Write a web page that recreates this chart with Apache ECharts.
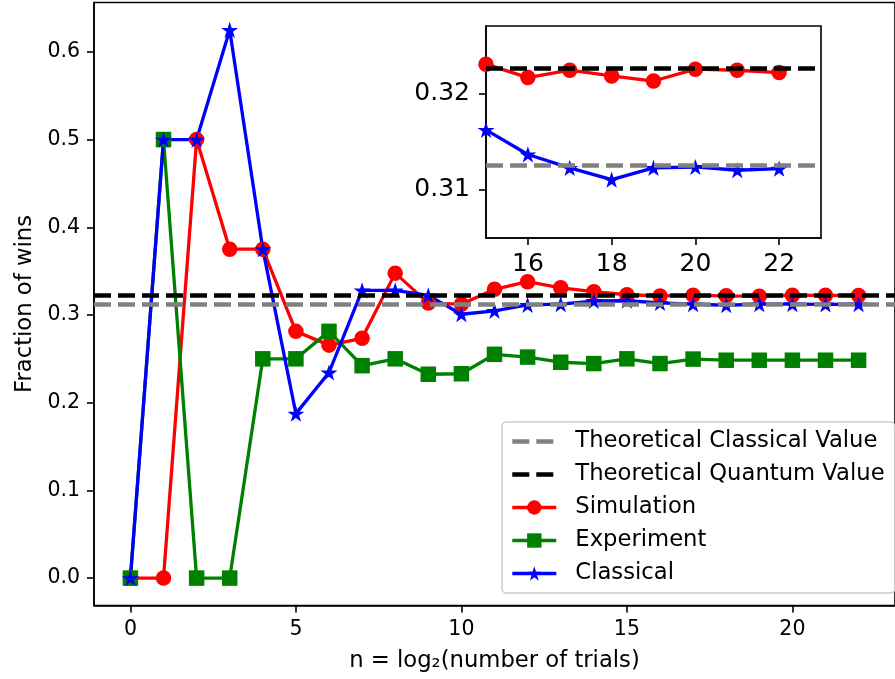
<!DOCTYPE html>
<html><head><meta charset="utf-8">
<script src="https://cdn.jsdelivr.net/npm/echarts@6/dist/echarts.min.js"></script>
<style>html,body{margin:0;padding:0;background:#fff}#c{width:895px;height:679px}</style>
</head><body><div id="c"></div>
<script>
// ---- data ----
const nValues = [0,1,2,3,4,5,6,7,8,9,10,11,12,13,14,15,16,17,18,19,20,21,22];
const simulation = [0, 0, 0.5, 0.375, 0.375, 0.2813, 0.2656, 0.2734, 0.3477, 0.3135, 0.3123, 0.3292, 0.3379, 0.3310, 0.3265, 0.32304, 0.32165, 0.32241, 0.32182, 0.32129, 0.32252, 0.32241, 0.32217];
const experiment = [0, 0.5, 0, 0, 0.25, 0.25, 0.2813, 0.2422, 0.25, 0.2324, 0.2330, 0.2551, 0.2520, 0.2461, 0.2446, 0.2500, 0.2446, 0.2497, 0.2484, 0.2484, 0.2484, 0.2484, 0.2484];
const classical = [0, 0.5, 0.5, 0.625, 0.375, 0.1875, 0.2344, 0.3281, 0.3281, 0.3223, 0.3008, 0.3047, 0.3115, 0.3123, 0.3159, 0.31622, 0.31367, 0.31227, 0.31105, 0.31227, 0.31237, 0.31203, 0.31220];
const theoreticalClassical = 0.3125;
const theoreticalQuantum = 0.3226;
const mainXTicks = [0,5,10,15,20];
const mainYTicks = [0,0.1,0.2,0.3,0.4,0.5,0.6];
const insetXTicks = [16,18,20,22];
const insetYTicks = [0.31,0.32];
const seriesNames = ['Theoretical Classical Value','Theoretical Quantum Value','Simulation','Experiment','Classical'];

// ---- styling ----
const FONT = 'DejaVu Sans';
const FS = 20.5, FS_LABEL = 22.7, FS_INSET = 25;
const RED = '#ff0000', GREEN = '#008000', BLUE = '#0000ff', GRAY = '#808080', BLACK = '#000000';
const STAR = 'path://M100,0L122.45,69.1L195.11,69.1L136.33,111.8L158.78,180.9L100,138.2L41.22,180.9L63.67,111.8L4.89,69.1L77.55,69.1Z';
const LW = 3.3, MS = 15.5, STAR_MS = 17, DLW = 4.6, DASH = [17,7];

const pairs = arr => nValues.map((x,i) => [x, arr[i]]);

function axisCommon(ticks, fmt, fs, margin) {
  return {
    type: 'value',
    splitLine: {show: false},
    axisLine: {show: true, onZero: false, lineStyle: {color: BLACK, width: 1.6}},
    axisTick: {show: true, length: 7, inside: false, lineStyle: {color: BLACK, width: 1.6}, customValues: ticks},
    axisLabel: {customValues: ticks, color: BLACK, fontSize: fs, fontFamily: FONT, margin: margin, formatter: fmt}
  };
}
function mLine(value, color) {
  return {yAxis: value, lineStyle: {color: color, width: DLW, type: DASH}};
}

const chart = echarts.init(document.getElementById('c'), null, {renderer: 'canvas'});
const option = {
  animation: false,
  backgroundColor: '#fff',
  grid: [
    {left: 94, top: 2.5, width: 807, height: 603, show: true, borderColor: BLACK, borderWidth: 1.6, backgroundColor: 'transparent'},
    {left: 486, top: 26, width: 335, height: 212, show: true, borderColor: BLACK, borderWidth: 1.6, backgroundColor: '#fff'}
  ],
  xAxis: [
    Object.assign(axisCommon(mainXTicks, v => String(v), FS, 14), {gridIndex: 0, min: -1.1, max: 23.1,
      name: 'n = log\u2082(number of trials)', nameLocation: 'middle', nameGap: 44,
      nameTextStyle: {color: BLACK, fontSize: FS_LABEL, fontFamily: FONT}}),
    Object.assign(axisCommon(insetXTicks, v => String(v), FS_INSET, 14), {gridIndex: 1, min: 15, max: 23})
  ],
  yAxis: [
    Object.assign(axisCommon(mainYTicks, v => v.toFixed(1), FS, 14), {gridIndex: 0, min: -0.03125, max: 0.65625,
      name: 'Fraction of wins', nameLocation: 'middle', nameGap: 57, nameRotate: 90,
      nameTextStyle: {color: BLACK, fontSize: FS_LABEL, fontFamily: FONT}}),
    Object.assign(axisCommon(insetYTicks, v => v.toFixed(2), FS_INSET, 16), {gridIndex: 1, min: 0.305, max: 0.327})
  ],
  legend: {
    orient: 'vertical',
    left: 502, top: 422,
    padding: [8, 10, 8, 8],
    itemWidth: 44, itemHeight: 18, itemGap: 10,
    backgroundColor: 'rgba(255,255,255,0.8)',
    borderColor: '#cccccc', borderWidth: 1.5, borderRadius: 4,
    textStyle: {color: BLACK, fontSize: FS_LABEL, fontFamily: FONT, padding: [0,0,0,14]},
    data: [
      {name: seriesNames[0], itemStyle: {opacity: 0}, lineStyle: {width: DLW}},
      {name: seriesNames[1], itemStyle: {opacity: 0}, lineStyle: {width: DLW}},
      {name: seriesNames[2], lineStyle: {width: LW}},
      {name: seriesNames[3], lineStyle: {width: LW}},
      {name: seriesNames[4], lineStyle: {width: LW}}
    ]
  },
  series: [
    {name: seriesNames[0], type: 'line', xAxisIndex: 0, yAxisIndex: 0, data: [], symbol: 'none',
      itemStyle: {color: GRAY}, lineStyle: {color: GRAY, width: DLW, type: DASH},
      markLine: {silent: true, symbol: 'none', precision: 6, label: {show: false}, animation: false,
        data: [mLine(theoreticalClassical, GRAY)]}},
    {name: seriesNames[1], type: 'line', xAxisIndex: 0, yAxisIndex: 0, data: [], symbol: 'none',
      itemStyle: {color: BLACK}, lineStyle: {color: BLACK, width: DLW, type: DASH},
      markLine: {silent: true, symbol: 'none', precision: 6, label: {show: false}, animation: false,
        data: [mLine(theoreticalQuantum, BLACK)]}},
    {name: seriesNames[2], type: 'line', xAxisIndex: 0, yAxisIndex: 0, data: pairs(simulation),
      symbol: 'circle', symbolSize: MS, showAllSymbol: true,
      itemStyle: {color: RED}, lineStyle: {color: RED, width: LW}},
    {name: seriesNames[3], type: 'line', xAxisIndex: 0, yAxisIndex: 0, data: pairs(experiment),
      symbol: 'rect', symbolSize: MS, showAllSymbol: true,
      itemStyle: {color: GREEN}, lineStyle: {color: GREEN, width: LW}},
    {name: seriesNames[4], type: 'line', xAxisIndex: 0, yAxisIndex: 0, data: pairs(classical),
      symbol: STAR, symbolKeepAspect: true, symbolSize: STAR_MS, showAllSymbol: true,
      itemStyle: {color: BLUE}, lineStyle: {color: BLUE, width: LW}},
    // inset
    {name: seriesNames[2], type: 'line', xAxisIndex: 1, yAxisIndex: 1, data: pairs(simulation), clip: true,
      symbol: 'circle', symbolSize: MS, showAllSymbol: true,
      itemStyle: {color: RED}, lineStyle: {color: RED, width: LW},
      markLine: {silent: true, symbol: 'none', precision: 6, label: {show: false}, animation: false,
        data: [mLine(theoreticalClassical, GRAY), mLine(theoreticalQuantum, BLACK)]}},
    {name: seriesNames[4], type: 'line', xAxisIndex: 1, yAxisIndex: 1, data: pairs(classical), clip: true,
      symbol: STAR, symbolKeepAspect: true, symbolSize: STAR_MS, showAllSymbol: true,
      itemStyle: {color: BLUE}, lineStyle: {color: BLUE, width: LW}}
  ]
};
chart.setOption(option);
</script>
</body></html>
